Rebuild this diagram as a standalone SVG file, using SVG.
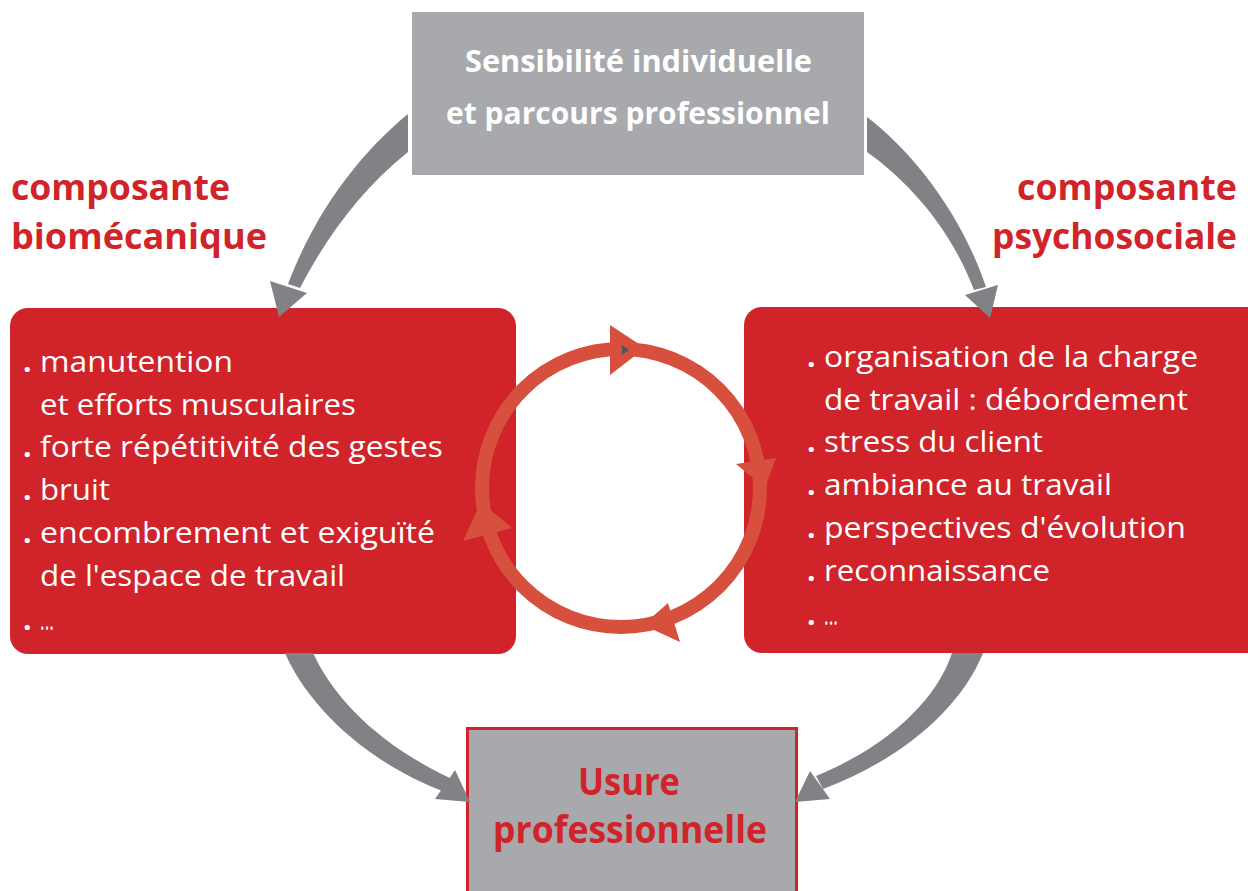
<svg xmlns="http://www.w3.org/2000/svg" width="1248" height="891" viewBox="0 0 1248 891">
  <style>
    .grey { fill: #a7a9ac; }
    .red { fill: #d0232a; }
    .conn { fill: #808285; }
    .cyc { fill: none; stroke: #d6503d; stroke-width: 14; }
    .cychead { fill: #d6503d; }
    .t { font-family: "Open Sans", "Liberation Sans", sans-serif; }
    .head { font-size: 30px; font-weight: 700; fill: #ffffff; }
    .lbl { font-size: 36px; font-weight: 700; fill: #d0232a; }
    .item { font-size: 30px; font-weight: 400; fill: #ffffff; }
    .dot { font-size: 30px; font-weight: 700; fill: #ffffff; }
    .out { font-size: 38px; font-weight: 700; fill: #d0232a; }
  </style>

  <!-- top node -->
  <g id="sensibilite">
    <rect class="grey" x="412" y="12" width="452" height="163"/>
    <text class="t head" x="465" y="72" textLength="347" lengthAdjust="spacingAndGlyphs">Sensibilité individuelle</text>
    <text class="t head" x="446" y="124" textLength="384" lengthAdjust="spacingAndGlyphs">et parcours professionnel</text>
  </g>

  <!-- side labels -->
  <g id="label-biomecanique">
    <text class="t lbl" x="11" y="200" textLength="219" lengthAdjust="spacingAndGlyphs">composante</text>
    <text class="t lbl" x="11" y="249" textLength="256" lengthAdjust="spacingAndGlyphs">biomécanique</text>
  </g>
  <g id="label-psychosociale">
    <text class="t lbl" x="1017" y="200" textLength="220" lengthAdjust="spacingAndGlyphs">composante</text>
    <text class="t lbl" x="992" y="249" textLength="245" lengthAdjust="spacingAndGlyphs">psychosociale</text>
  </g>

  <!-- biomechanical factors -->
  <g id="biomecanique">
    <rect class="red" x="10" y="308" width="506" height="346" rx="18" ry="18"/>
    <g class="t dot">
      <text x="23" y="372">.</text>
      <text x="23" y="457">.</text>
      <text x="23" y="500">.</text>
      <text x="23" y="543">.</text>
      <text x="23" y="630">.</text>
    </g>
    <g class="t item">
      <text x="40" y="372" textLength="193" lengthAdjust="spacingAndGlyphs">manutention</text>
      <text x="40" y="415" textLength="316" lengthAdjust="spacingAndGlyphs">et efforts musculaires</text>
      <text x="40" y="457" textLength="403" lengthAdjust="spacingAndGlyphs">forte répétitivité des gestes</text>
      <text x="40" y="500" textLength="70" lengthAdjust="spacingAndGlyphs">bruit</text>
      <text x="40" y="543" textLength="395" lengthAdjust="spacingAndGlyphs">encombrement et exiguïté</text>
      <text x="40" y="586" textLength="305" lengthAdjust="spacingAndGlyphs">de l'espace de travail</text>
      <text x="40" y="630" textLength="14" lengthAdjust="spacingAndGlyphs">...</text>
    </g>
  </g>

  <!-- psychosocial factors -->
  <g id="psychosociale">
    <rect class="red" x="744" y="307" width="524" height="346" rx="18" ry="18"/>
    <g class="t dot">
      <text x="807" y="367">.</text>
      <text x="807" y="452">.</text>
      <text x="807" y="495">.</text>
      <text x="807" y="538">.</text>
      <text x="807" y="581">.</text>
      <text x="807" y="625">.</text>
    </g>
    <g class="t item">
      <text x="824" y="367" textLength="374" lengthAdjust="spacingAndGlyphs">organisation de la charge</text>
      <text x="824" y="410" textLength="364" lengthAdjust="spacingAndGlyphs">de travail : débordement</text>
      <text x="824" y="452" textLength="219" lengthAdjust="spacingAndGlyphs">stress du client</text>
      <text x="824" y="495" textLength="288" lengthAdjust="spacingAndGlyphs">ambiance au travail</text>
      <text x="824" y="538" textLength="362" lengthAdjust="spacingAndGlyphs">perspectives d'évolution</text>
      <text x="824" y="581" textLength="226" lengthAdjust="spacingAndGlyphs">reconnaissance</text>
      <text x="824" y="625" textLength="14" lengthAdjust="spacingAndGlyphs">...</text>
    </g>
  </g>

  <!-- outcome node -->
  <g id="usure">
    <rect class="grey" x="467.5" y="728.5" width="329" height="180" stroke="#d0232a" stroke-width="3"/>
    <text class="t out" x="578" y="795" textLength="102" lengthAdjust="spacingAndGlyphs">Usure</text>
    <text class="t out" x="493" y="843" textLength="274" lengthAdjust="spacingAndGlyphs">professionnelle</text>
  </g>

  <!-- interaction cycle between the two components -->
  <g id="cycle">
    <circle class="cyc" cx="621" cy="488" r="139"/>
    <polygon class="cychead" points="610,325 610,375 645,348"/>
    <polygon fill="#555559" points="622,345 622,355 629,350"/>
    <polygon class="cychead" points="736,464 776,458 765,488"/>
    <polygon class="cychead" points="668,603 680,642 643,625"/>
    <polygon class="cychead" points="463,541 512,528 481,502"/>
  </g>

  <!-- tapered curved connectors -->
  <g id="connectors">
    <path class="conn" d="M408,114 C370,145 320,200 288,284 L300,288 C325,240 360,190 408,152 Z"/>
    <polygon class="conn" points="270,281 307,293 279,317"/>

    <path class="conn" d="M867,117 C910,150 960,210 986,287 L974,290 C955,240 920,190 867,152 Z"/>
    <polygon class="conn" points="965,295 998,285 990,318"/>

    <path class="conn" d="M285,653 C305,700 360,760 445,792 L450,778 C380,745 335,700 313,653 Z"/>
    <polygon class="conn" points="455,770 435,799 470,802"/>

    <path class="conn" d="M983,653 C960,710 900,760 823,789 L816,776 C880,750 935,705 952,653 Z"/>
    <polygon class="conn" points="810,771 830,799 795,802"/>
  </g>
</svg>
